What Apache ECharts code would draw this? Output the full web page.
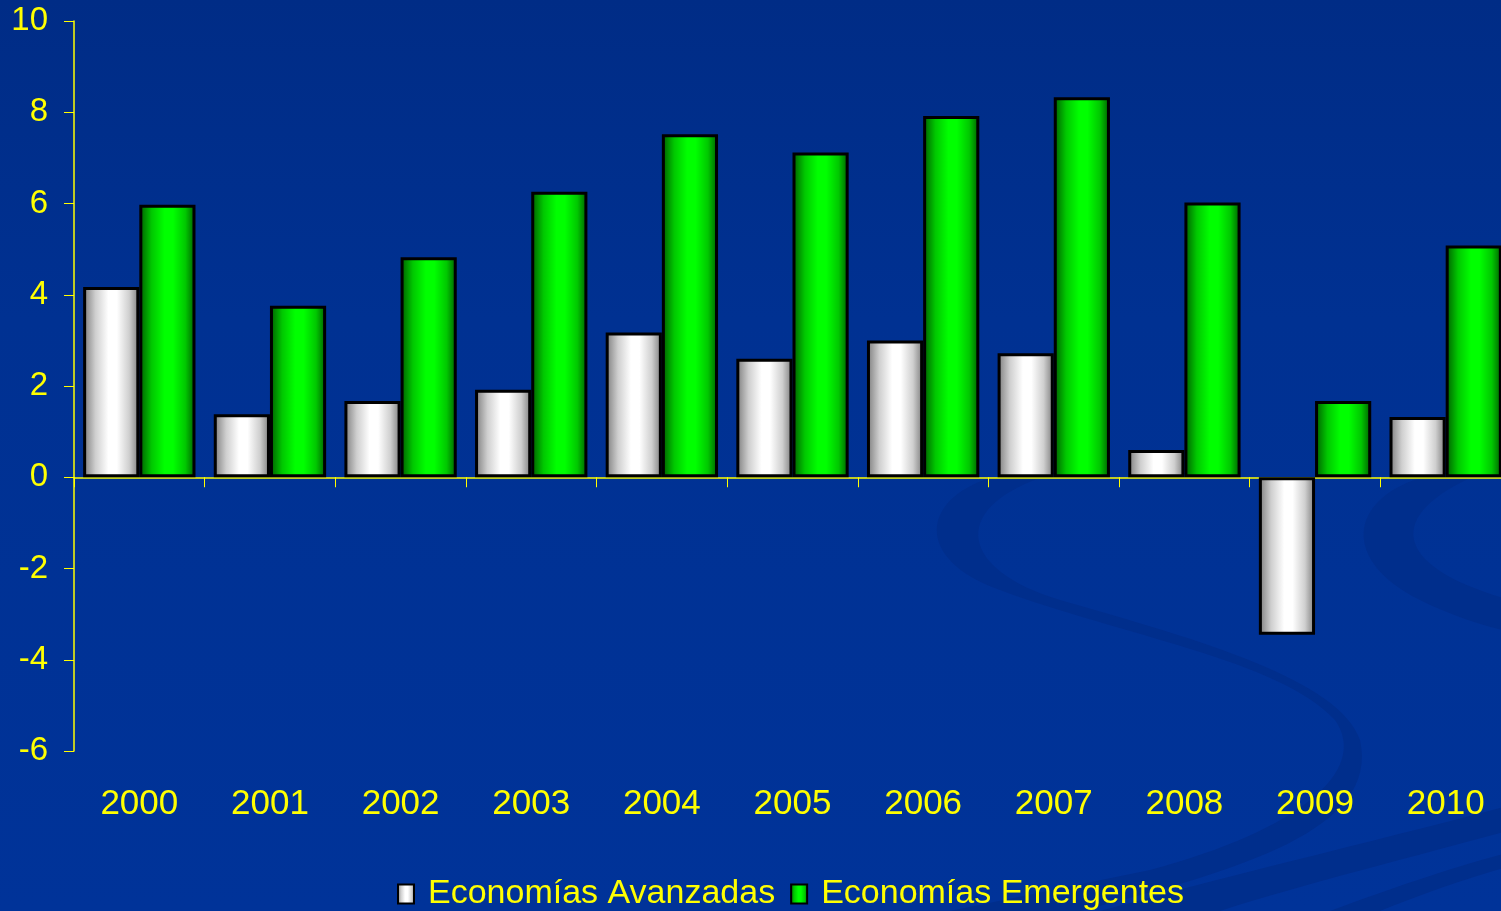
<!DOCTYPE html>
<html>
<head>
<meta charset="utf-8">
<script src="https://cdn.jsdelivr.net/npm/echarts@6/dist/echarts.min.js"></script>
<style>
  html, body { margin: 0; padding: 0; background: #003399; overflow: hidden; }
  #chart { width: 1511px; height: 911px; }
</style>
</head>
<body>
<div id="chart"></div>
<script>
// Crecimiento del PIB (%), 2000-2010
const years = ['2000', '2001', '2002', '2003', '2004', '2005', '2006', '2007', '2008', '2009', '2010'];
const avanzadas = [4.17, 1.38, 1.67, 1.92, 3.17, 2.6, 3.0, 2.72, 0.6, -3.45, 1.32];
const emergentes = [5.97, 3.76, 4.82, 6.26, 7.52, 7.12, 7.92, 8.33, 6.02, 1.67, 5.08];
const seriesNames = ['Economías Avanzadas', 'Economías Emergentes'];
const yMin = -6, yMax = 10, yStep = 2;

const FONT = '"Liberation Sans", Arial, sans-serif';
const YELLOW = '#ffff00';

function cylinder(edge, mid, center) {
  return new echarts.graphic.LinearGradient(0, 0, 1, 0, [
    { offset: 0, color: edge },
    { offset: 0.22, color: mid },
    { offset: 0.45, color: center },
    { offset: 0.6, color: center },
    { offset: 0.82, color: mid },
    { offset: 1, color: edge }
  ]);
}
const silverFill = cylinder('#7a7a7a', '#cfcfcf', '#ffffff');
const greenFill = cylinder('#005a00', '#00c800', '#00ff00');

// decorative swooshes in the slide background
const swooshPaths = {
  swooshBig: 'M 990 478 C 920 500 915 560 1000 590 C 1120 635 1280 660 1335 720 C 1370 770 1300 830 1150 870 L 950 911 L 1080 911 C 1240 870 1380 830 1360 740 C 1340 680 1200 640 1060 600 C 960 570 950 510 1040 478 Z',
  swooshRight: 'M 1420 478 C 1350 500 1340 560 1420 600 C 1450 615 1480 625 1511 632 L 1511 600 C 1400 570 1380 520 1470 478 Z',
  swooshLow1: 'M 1100 911 C 1250 870 1400 835 1511 805 L 1511 830 C 1420 855 1300 885 1220 911 Z',
  swooshLow2: 'M 1330 911 C 1400 885 1460 865 1511 852 L 1511 866 C 1460 880 1420 895 1380 911 Z'
};
const backdrop = [];
Object.keys(swooshPaths).forEach(function (name) {
  echarts.graphic.registerShape(name, echarts.graphic.extendPath(swooshPaths[name], {}));
  backdrop.push({ type: name, z: -10, silent: true, style: { fill: '#002e8c' } });
});

const chart = echarts.init(document.getElementById('chart'), null, { renderer: 'canvas' });

chart.setOption({
  backgroundColor: new echarts.graphic.LinearGradient(0, 0, 0, 1, [
    { offset: 0, color: '#002c86' },
    { offset: 0.35, color: '#003192' },
    { offset: 1, color: '#003399' }
  ]),
  animation: false,
  graphic: backdrop,
  textStyle: { fontFamily: FONT },
  grid: { left: 74, top: 21, right: 0, bottom: 160, containLabel: false },
  legend: {
    data: seriesNames,
    top: 872,
    left: 392,
    icon: 'rect',
    itemWidth: 16,
    itemHeight: 19,
    itemGap: 15,
    textStyle: { color: YELLOW, fontSize: 34, fontFamily: FONT, padding: [2, 0, 0, 9] }
  },
  xAxis: [
    {
      type: 'category',
      data: years,
      axisLine: { onZero: true, lineStyle: { color: YELLOW, width: 1.5 } },
      axisTick: { show: true, length: 10, lineStyle: { color: YELLOW } },
      axisLabel: { show: false },
      splitLine: { show: false }
    },
    {
      type: 'category',
      data: years,
      position: 'bottom',
      axisLine: { show: false, onZero: false },
      axisTick: { show: false },
      axisLabel: { color: YELLOW, fontSize: 35, fontFamily: FONT, margin: 36 },
      splitLine: { show: false }
    }
  ],
  yAxis: {
    type: 'value',
    min: yMin,
    max: yMax,
    interval: yStep,
    axisLine: { show: true, lineStyle: { color: YELLOW, width: 1.5 } },
    axisTick: { show: true, length: 10, lineStyle: { color: YELLOW } },
    axisLabel: { color: YELLOW, fontSize: 33, fontFamily: FONT, margin: 26, padding: [3, 0, 0, 0] },
    splitLine: { show: false }
  },
  series: [
    {
      name: seriesNames[0],
      type: 'bar',
      xAxisIndex: 0,
      data: avanzadas,
      barGap: '0%',
      barCategoryGap: '14%',
      itemStyle: { color: silverFill, borderColor: '#000000', borderWidth: 3 }
    },
    {
      name: seriesNames[1],
      type: 'bar',
      xAxisIndex: 0,
      data: emergentes,
      barGap: '0%',
      barCategoryGap: '14%',
      itemStyle: { color: greenFill, borderColor: '#000000', borderWidth: 3 }
    }
  ]
});
</script>
</body>
</html>
